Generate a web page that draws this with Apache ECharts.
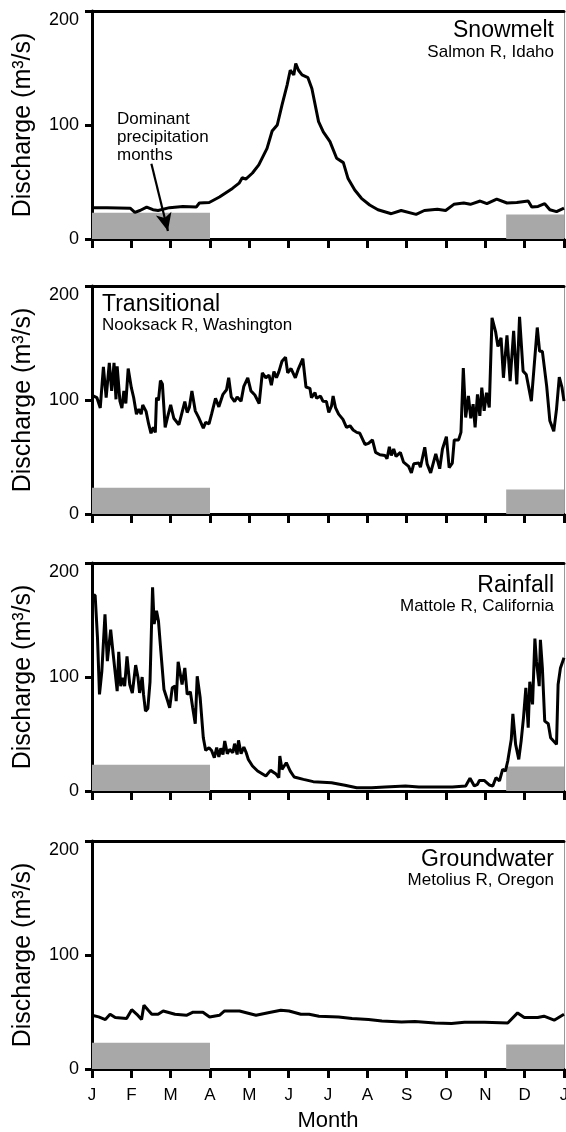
<!DOCTYPE html>
<html lang="en">
<head>
<meta charset="UTF-8">
<title>Discharge regimes</title>
<script src="https://cdn.jsdelivr.net/npm/echarts@6/dist/echarts.min.js"></script>
<style>
  html, body { margin: 0; padding: 0; background: #fff; }
  #chart { width: 566px; height: 1132px; }
</style>
</head>
<body>
<div id="chart"></div>
<script>
// month axis: 0 = 1 Jan, 12 = next 1 Jan
var monthLabels = ['J', 'F', 'M', 'A', 'M', 'J', 'J', 'A', 'S', 'O', 'N', 'D', 'J'];
var yTicks = [0, 100, 200];

var panelTitles = ['Snowmelt', 'Transitional', 'Rainfall', 'Groundwater'];
var panelRivers = ['Salmon R, Idaho', 'Nooksack R, Washington', 'Mattole R, California', 'Metolius R, Oregon'];

// [month, discharge m3/s]
var snowmelt = [
  [0, 27.5], [0.38, 27.5], [0.97, 27], [1.09, 23.4], [1.22, 25], [1.39, 28], [1.55, 25.7], [1.68, 25],
  [1.97, 27.5], [2.31, 28.6], [2.65, 28], [2.73, 31.6], [2.98, 32], [3.24, 36.8], [3.57, 44.4], [3.74, 49],
  [3.82, 53.8], [3.91, 52.6], [4.08, 57.9], [4.24, 65], [4.45, 79.5], [4.58, 94.7], [4.71, 100], [4.83, 117.5],
  [4.96, 135], [5.04, 148], [5.13, 143.9], [5.18, 154], [5.25, 148], [5.34, 143.9], [5.49, 141.5], [5.59, 132],
  [5.76, 103], [5.88, 94], [6.05, 85.4], [6.22, 70.8], [6.39, 67], [6.51, 53], [6.68, 43], [6.85, 35.7],
  [7.06, 29.8], [7.27, 25.7], [7.61, 22.2], [7.86, 25], [8.24, 21.6], [8.45, 25], [8.78, 26], [8.99, 25],
  [9.2, 30.4], [9.45, 31.6], [9.62, 30.4], [9.87, 33.3], [10.04, 31], [10.29, 35], [10.55, 31.6], [10.8, 32],
  [11.09, 33.3], [11.18, 28], [11.34, 28.6], [11.51, 31], [11.64, 25.7], [11.81, 24], [12, 27]
];

var transitional = [
  [0, 104], [0.125, 102], [0.21, 93], [0.29, 129], [0.36, 102], [0.44, 132.5], [0.5, 108], [0.56, 132.5],
  [0.61, 100.6], [0.64, 129.6], [0.71, 99], [0.76, 93], [0.81, 108], [0.86, 97], [0.92, 127.6], [1.0, 110.8],
  [1.06, 102], [1.13, 87.6], [1.19, 92], [1.25, 87.6], [1.29, 95.7], [1.375, 90], [1.44, 79], [1.5, 70.8],
  [1.56, 76], [1.61, 71.6], [1.64, 102], [1.69, 99.8], [1.74, 117], [1.79, 114], [1.86, 76], [1.92, 84.7],
  [2.0, 95.7], [2.08, 84], [2.21, 78.3], [2.36, 98.6], [2.42, 89], [2.475, 93.4], [2.54, 108], [2.625, 90.5],
  [2.71, 84.7], [2.83, 75.4], [2.89, 80.3], [2.975, 79], [3.04, 87.6], [3.14, 101.5], [3.225, 94], [3.33, 105],
  [3.42, 109], [3.475, 119.5], [3.54, 102.7], [3.625, 98.6], [3.69, 102.7], [3.79, 99], [3.86, 112], [3.96, 119.5],
  [4.04, 108], [4.14, 104.4], [4.25, 96.9], [4.33, 123.8], [4.42, 119.5], [4.5, 121.8], [4.56, 113], [4.625, 125],
  [4.69, 119.5], [4.75, 124.7], [4.83, 134], [4.92, 137.5], [4.975, 123.8], [5.06, 127.6], [5.17, 119.5], [5.25, 127.6],
  [5.36, 136.3], [5.44, 111.4], [5.54, 110.2], [5.58, 102], [5.67, 106.4], [5.71, 101.5], [5.81, 103.5], [5.87, 99],
  [5.96, 98.6], [6.02, 89], [6.09, 94.8], [6.13, 103.5], [6.19, 93.4], [6.27, 87.6], [6.38, 83], [6.47, 76],
  [6.56, 77.4], [6.64, 73.7], [6.73, 71.6], [6.81, 70.8], [6.94, 61], [7.03, 62], [7.13, 65], [7.21, 54],
  [7.32, 52], [7.45, 51.3], [7.5, 48.4], [7.56, 59], [7.61, 51.3], [7.67, 57], [7.73, 50.5], [7.84, 54],
  [7.92, 45.5], [8.05, 41.8], [8.12, 36], [8.18, 44], [8.31, 44.7], [8.35, 41], [8.46, 58.6], [8.52, 44],
  [8.61, 36], [8.74, 52.8], [8.84, 39.7], [8.91, 57], [9.01, 67.9], [9.08, 40.6], [9.16, 44.7], [9.21, 65],
  [9.32, 65], [9.38, 71.6], [9.44, 128], [9.5, 84.7], [9.57, 103.5], [9.63, 84], [9.69, 96.3], [9.74, 76],
  [9.8, 105], [9.86, 86], [9.91, 110.8], [9.97, 90.5], [10.03, 106.4], [10.1, 93.4], [10.17, 172], [10.26, 160],
  [10.32, 147], [10.4, 154.6], [10.46, 119.5], [10.55, 156.6], [10.63, 116.6], [10.72, 160.6], [10.8, 113.7], [10.87, 173],
  [10.96, 125.3], [11.04, 122.4], [11.17, 99], [11.32, 163.6], [11.38, 142.7], [11.45, 142.7], [11.56, 112], [11.64, 81.8],
  [11.74, 72.5], [11.81, 92], [11.88, 120], [11.95, 110.8], [12, 99]
];

var rainfall = [
  [0, 172], [0.08, 171.7], [0.14, 134], [0.19, 84.7], [0.25, 105], [0.33, 155], [0.39, 113.9], [0.475, 141.6],
  [0.54, 119.7], [0.64, 87.6], [0.68, 122], [0.73, 92], [0.79, 99.3], [0.83, 92], [0.89, 118], [0.96, 93.4],
  [1.025, 86], [1.11, 110.4], [1.17, 99.3], [1.21, 86], [1.275, 100], [1.31, 84.7], [1.36, 70], [1.42, 72.4],
  [1.475, 95.8], [1.54, 178.7], [1.58, 146.6], [1.64, 158], [1.69, 149], [1.75, 122.6], [1.83, 89], [1.92, 79.4],
  [1.975, 73], [2.04, 90.5], [2.11, 92], [2.14, 78.8], [2.19, 113.3], [2.29, 93.4], [2.36, 108], [2.42, 84.7],
  [2.5, 87], [2.56, 73], [2.625, 59], [2.675, 100.7], [2.75, 81.8], [2.83, 46.7], [2.89, 35.6], [2.975, 38],
  [3.04, 35.6], [3.11, 29.2], [3.17, 38], [3.225, 29.8], [3.275, 37.4], [3.33, 32], [3.375, 43.8], [3.44, 32.7],
  [3.5, 36.5], [3.58, 33.6], [3.625, 41.5], [3.69, 32], [3.725, 44.4], [3.79, 32.7], [3.86, 38.5], [3.92, 33.6],
  [3.975, 27.7], [4.08, 21.9], [4.21, 17.5], [4.42, 13.1], [4.54, 18.1], [4.67, 15.2], [4.75, 11.7], [4.775, 30.7],
  [4.83, 19], [4.94, 24.8], [5.04, 17.5], [5.14, 12.3], [5.375, 10.2], [5.625, 8.2], [6.09, 7.3], [6.43, 5],
  [6.73, 2.9], [7.11, 2.9], [7.45, 3.5], [7.97, 4.4], [8.31, 3.5], [8.74, 3.5], [9.16, 3.5], [9.5, 4.4],
  [9.61, 11.1], [9.72, 4.4], [9.8, 5.8], [9.85, 9.3], [9.97, 9.3], [10.1, 5.3], [10.19, 4.4], [10.27, 11.7],
  [10.36, 8.8], [10.44, 19], [10.51, 17.5], [10.57, 26.3], [10.66, 45.3], [10.7, 67.7], [10.77, 40.9], [10.85, 27.7],
  [10.91, 43.8], [10.97, 64.2], [11.03, 90.5], [11.09, 55.5], [11.13, 95.8], [11.2, 76], [11.26, 133.7], [11.3, 113.9],
  [11.37, 92], [11.4, 132.6], [11.45, 108], [11.51, 61.3], [11.6, 59], [11.66, 46.7], [11.81, 40.9], [11.85, 93.4],
  [11.91, 108], [12, 116.8]
];

var groundwater = [
  [0, 47.1], [0.17, 45.7], [0.34, 43.4], [0.46, 48], [0.59, 45.1], [0.88, 44.2], [1.01, 52], [1.14, 48],
  [1.26, 43.4], [1.32, 55.9], [1.43, 51.5], [1.52, 48], [1.68, 48], [1.81, 50.9], [2.11, 48], [2.4, 47.1],
  [2.57, 49.8], [2.82, 49.8], [2.99, 45.7], [3.24, 47.1], [3.37, 50.9], [3.75, 50.9], [4.17, 47.1], [4.51, 49.5],
  [4.8, 51.5], [5.01, 50.9], [5.31, 48], [5.52, 48], [5.77, 46.3], [6.27, 45.7], [6.61, 44.2], [7.03, 43.4],
  [7.37, 42.2], [7.87, 41.3], [8.21, 41.6], [8.72, 40.4], [9.14, 39.9], [9.47, 41], [9.98, 41], [10.57, 40.4],
  [10.82, 49.2], [10.99, 45.1], [11.33, 45.1], [11.49, 46.3], [11.75, 42.8], [12, 48]
];

// dominant precipitation months: [from month, to month, bar height]
var precipBands = [[0, 3, 23], [10.53, 12, 21.5]];
// arrow of the annotation in panel 1: [month, discharge]
var arrowFrom = [1.51, 66];
var arrowTo = [1.93, 7];

var allSeries = [snowmelt, transitional, rainfall, groundwater];

// layout
var gridLeft = 92, gridRight = 2, gridHeight = 228;
var gridTops = [11, 286, 563, 841];
var titleY = [32, 306, 587, 861];
var riverY = [53, 326, 607, 881];
var titleRight = [true, false, true, true];
var font = '"Liberation Sans", Arial, sans-serif';

var chart = echarts.init(document.getElementById('chart'));

var grids = [], xAxes = [], yAxes = [], series = [], graphics = [];

for (var i = 0; i < 4; i++) {
  var last = i === 3;
  grids.push({ left: gridLeft, right: gridRight, top: gridTops[i], height: gridHeight, outerBoundsMode: 'none', containLabel: false });

  xAxes[i] = {
    gridIndex: i, type: 'value', min: 0, max: 12, interval: 1, position: 'bottom',
    axisLine: { onZero: false, lineStyle: { color: '#000', width: 3 } },
    axisTick: { show: true, inside: false, length: 9, lineStyle: { color: '#000', width: 3 } },
    axisLabel: {
      show: last, margin: 18, color: '#000', fontSize: 17, fontFamily: font,
      showMinLabel: true, showMaxLabel: true,
      formatter: function (v) { return monthLabels[Math.round(v)]; }
    },
    splitLine: { show: false },
    name: last ? 'Month' : '', nameLocation: 'middle', nameGap: 41,
    nameTextStyle: { color: '#000', fontSize: 22, fontFamily: font }
  };
  // top frame line
  xAxes[4 + i] = {
    gridIndex: i, type: 'value', min: 0, max: 12, position: 'top',
    axisLine: { onZero: false, lineStyle: { color: '#000', width: 3 } },
    axisTick: { show: false }, axisLabel: { show: false }, splitLine: { show: false }
  };

  yAxes[i] = {
    gridIndex: i, type: 'value', min: yTicks[0], max: yTicks[2], interval: 100, position: 'left',
    axisLine: { show: true, onZero: false, lineStyle: { color: '#000', width: 3 } },
    axisTick: { show: true, inside: false, length: 7, lineStyle: { color: '#000', width: 3 } },
    axisLabel: { margin: 13, color: '#000', fontSize: 18, fontFamily: font, verticalAlignMaxLabel: 'top' },
    splitLine: { show: false },
    name: 'Discharge (m³/s)', nameLocation: 'middle', nameGap: 56, nameRotate: 90,
    nameTextStyle: { color: '#000', fontSize: 25, fontFamily: font }
  };
  // faint right edge
  yAxes[4 + i] = {
    gridIndex: i, type: 'value', min: 0, max: 200, position: 'right',
    axisLine: { show: true, onZero: false, lineStyle: { color: '#999', width: 1 } },
    axisTick: { show: false }, axisLabel: { show: false }, splitLine: { show: false }
  };

  var s = {
    type: 'line', xAxisIndex: i, yAxisIndex: i, data: allSeries[i],
    showSymbol: false, symbol: 'none', z: 5,
    lineStyle: { color: '#000', width: 3 },
    markArea: {
      silent: true,
      itemStyle: { color: '#a8a8a8' },
      data: precipBands.map(function (b) { return [{ coord: [b[0], 0] }, { coord: [b[1], b[2]] }]; })
    }
  };
  if (i === 0) {
    s.markLine = {
      silent: true, symbol: ['none', 'arrow'], symbolSize: [12, 18],
      lineStyle: { color: '#000', width: 2.2, type: 'solid' },
      label: { show: false },
      data: [[{ coord: arrowFrom }, { coord: arrowTo }]]
    };
  }
  series.push(s);

  var right = titleRight[i];
  graphics.push({
    type: 'text', z: 10,
    left: right ? null : 102, right: right ? 12 : null, top: titleY[i] - 13,
    style: { text: panelTitles[i], fill: '#000', font: '23px ' + font }
  });
  graphics.push({
    type: 'text', z: 10,
    left: right ? null : 102, right: right ? 12 : null, top: riverY[i] - 9,
    style: { text: panelRivers[i], fill: '#000', font: '17px ' + font }
  });
}

graphics.push({
  type: 'text', z: 10, left: 117, top: 110,
  style: { text: 'Dominant\nprecipitation\nmonths', fill: '#000', font: '17px ' + font, lineHeight: 18 }
});

chart.setOption({
  animation: false,
  backgroundColor: '#fff',
  grid: grids,
  xAxis: xAxes,
  yAxis: yAxes,
  series: series,
  graphic: graphics
});
</script>
</body>
</html>
